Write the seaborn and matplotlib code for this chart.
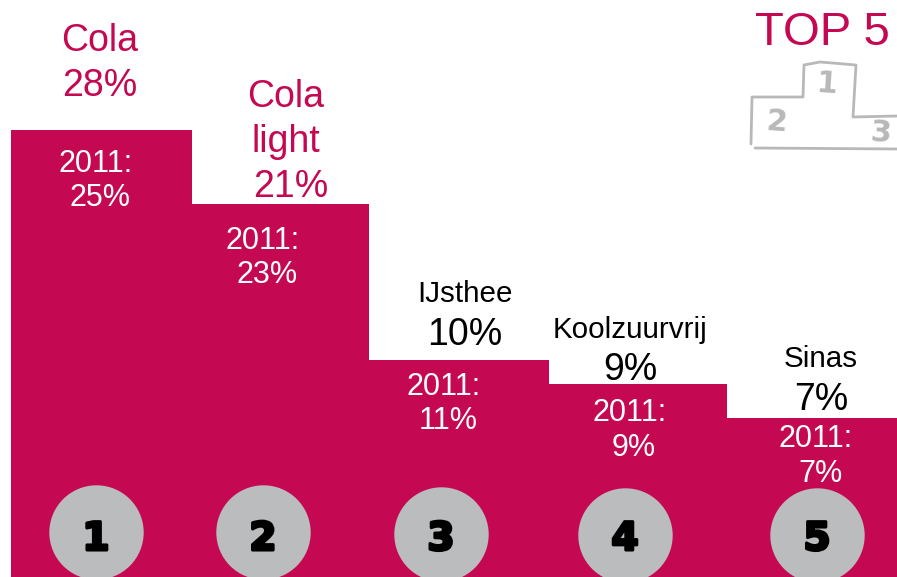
import matplotlib
matplotlib.use("Agg")
import matplotlib.pyplot as plt
import matplotlib.patheffects as pe
import seaborn as sns

# Data (podium steps as drawn, in picture units)
products = ["Cola", "Cola\nlight", "IJsthee", "Koolzuurvrij", "Sinas"]
share_2012 = ["28%", "21%", "10%", "9%", "7%"]
share_2011 = ["25%", "23%", "11%", "9%", "7%"]
step_edges = [11, 192, 369, 549, 727, 897]
step_centers = [101.5, 280.5, 459, 638, 812]
step_heights = [447, 373, 217, 193, 159]
ranks = ["1", "2", "3", "4", "5"]
rank_x = [96, 263, 441, 625, 817]
rank_y = [45, 45, 43, 42, 42]

CRIMSON = "#C40852"
GRAY = "#BBBCBE"
SKETCH = "#B8B8B8"
W, H = 897, 577

sns.set_theme(style="white", rc={"font.family": ["Liberation Sans", "DejaVu Sans"]})
fig = plt.figure(figsize=(W / 100, H / 100), dpi=100, facecolor="white")
ax = fig.add_axes([0, 0, 1, 1])

sns.histplot(x=step_centers, weights=step_heights, bins=step_edges, color=CRIMSON,
             alpha=1, linewidth=0, element="bars", fill=True, legend=False, ax=ax)
sns.scatterplot(x=rank_x, y=rank_y, s=4620, color=GRAY, linewidth=0, legend=False, ax=ax, zorder=3)
ax.set_xlim(0, W)
ax.set_ylim(0, H)
ax.axis("off")


def put(x, y, s, size, color="black", **kw):
    ax.text(x, H - y - 3, s, fontsize=size, color=color, ha="center", va="center", **kw)


# Product names and current shares
put(100, 38, "Cola", 27, CRIMSON)
put(100, 83, share_2012[0], 27, CRIMSON)
put(286, 94, "Cola", 27, CRIMSON)
put(286, 139, "light", 27, CRIMSON)
put(291, 184, share_2012[1], 27, CRIMSON)
put(465, 291, products[2], 21.3)
put(465, 332, share_2012[2], 27)
put(630, 327, products[3], 21.3)
put(630, 367, share_2012[3], 27)
put(821, 356, products[4], 21.3)
put(821, 397, share_2012[4], 27)

# 2011 labels
y2011 = [(96, 161, 100, 195), (263, 238, 267, 272), (444, 384, 448, 418),
         (630, 410, 634, 445), (816, 436, 820, 471)]
for (x1, y1, x2, y2), v in zip(y2011, share_2011):
    put(x1, y1, "2011:", 22, "white")
    put(x2, y2, v, 22, "white")

# Rank digits
for x, r in zip(rank_x, ranks):
    ax.text(x, 38, r, fontsize=28, fontweight="bold", color="black", ha="center", va="center",
            zorder=4, family="DejaVu Sans",
            path_effects=[pe.withStroke(linewidth=2.2, foreground="black")])

# TOP 5 with sketched podium
ax.text(822.5, H - 33, "TOP 5", fontsize=34, color=CRIMSON, ha="center", va="center")
podium_x = [751, 752, 803, 804, 820, 856, 853, 897]
podium_y = [144, 97, 97, 65, 62, 65, 117, 116]
base_x = [755, 897]
base_y = [148, 149]
ax.plot(podium_x, [H - v for v in podium_y], color=SKETCH, lw=2, solid_joinstyle="round")
ax.plot(base_x, [H - v for v in base_y], color=SKETCH, lw=2)
ax.text(827, H - 84, "1", fontsize=22, fontweight="bold", color=SKETCH, ha="center", va="center", rotation=-4, family="DejaVu Sans")
ax.text(777, H - 122, "2", fontsize=22, fontweight="bold", color=SKETCH, ha="center", va="center", rotation=-4, family="DejaVu Sans")
ax.text(881, H - 133, "3", fontsize=22, fontweight="bold", color=SKETCH, ha="center", va="center", rotation=-4, family="DejaVu Sans")

fig.savefig("out.png", dpi=100)
